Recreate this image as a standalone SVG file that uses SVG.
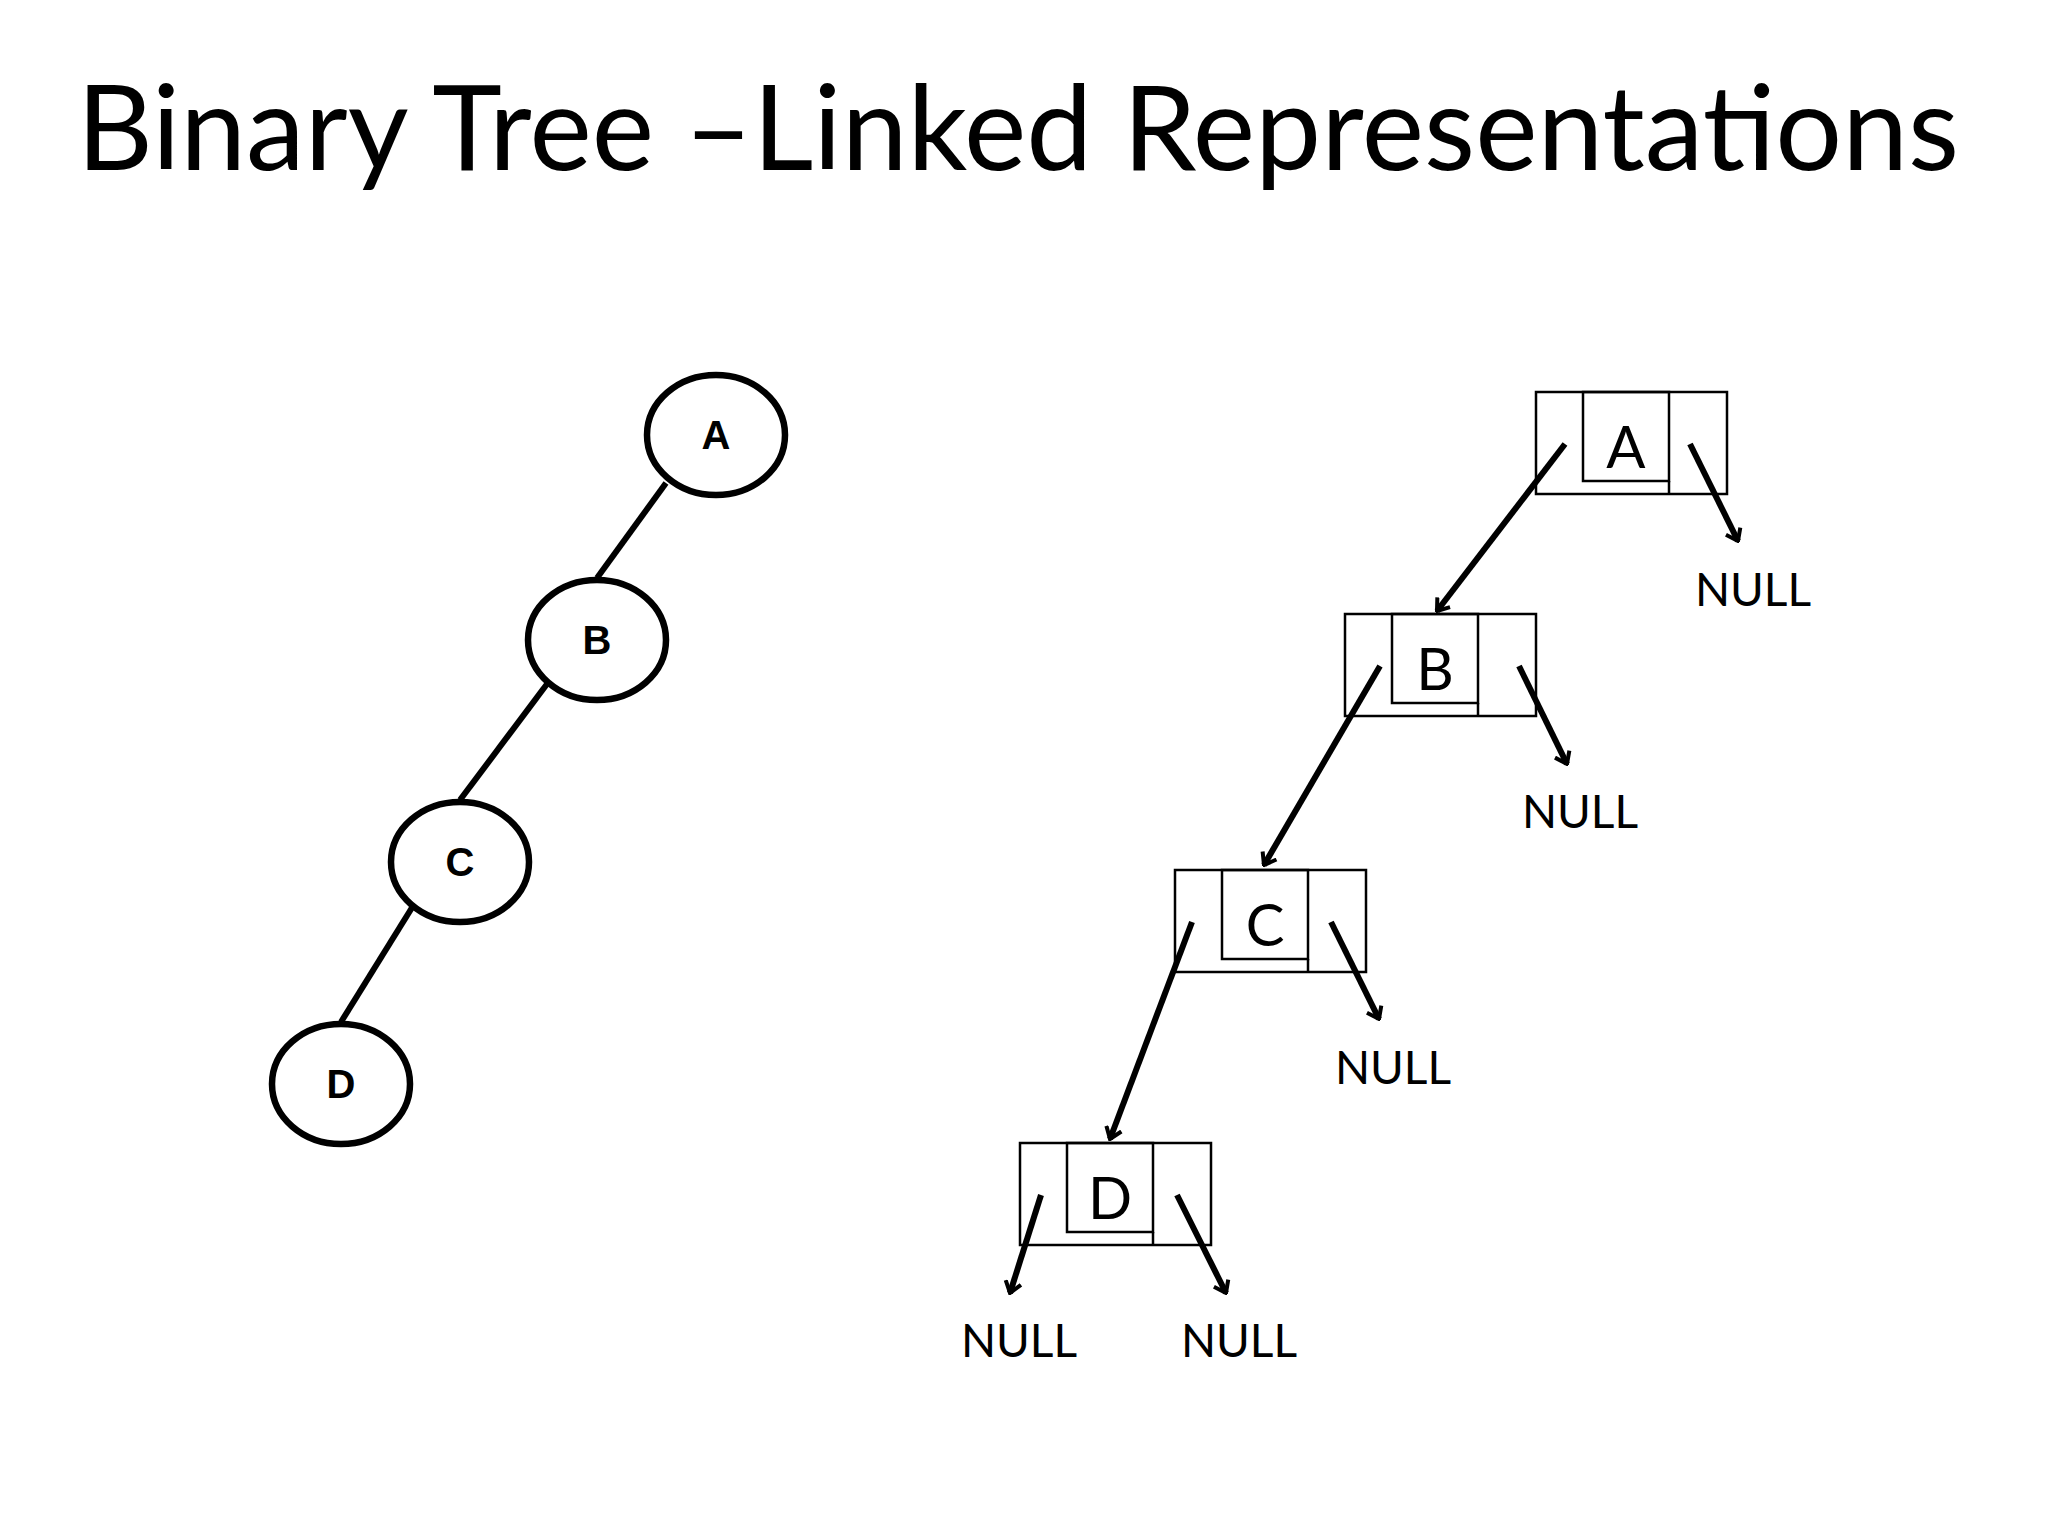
<svg xmlns="http://www.w3.org/2000/svg" width="2048" height="1536" viewBox="0 0 2048 1536">
<defs>
<style>
.t{font-family:Lato,"Liberation Sans",sans-serif;fill:#000}
.bx{fill:none;stroke:#000;stroke-width:2.5}
.el{fill:#fff;stroke:#000;stroke-width:6.5}
.ln{stroke:#000;stroke-width:6;fill:none}
.ar{stroke:#000;stroke-width:6;fill:none;marker-end:url(#ah)}
.nl{font-family:Lato,"Liberation Sans",sans-serif;font-size:46px;text-anchor:middle}
.lb{font-family:"Liberation Sans",Arial,sans-serif;font-weight:bold;font-size:40px;text-anchor:middle}
.bl{font-family:Lato,"Liberation Sans",sans-serif;font-size:58px;text-anchor:middle}
</style>
<marker id="ah" viewBox="-12 -10 14 20" markerWidth="14" markerHeight="20" refX="0" refY="0" orient="auto" markerUnits="userSpaceOnUse">
<path d="M-11,-8 L0,0 L-11,8" fill="none" stroke="#000" stroke-width="4"/>
</marker>
</defs>
<rect width="2048" height="1536" fill="#fff"/>
<text class="t" x="1018" y="170" font-size="118" text-anchor="middle">Binary Tree –Linked Representations</text>
<g id="connectors">
<line class="ln" x1="666" y1="483" x2="597" y2="578"/>
<line class="ln" x1="547" y1="684" x2="460" y2="800"/>
<line class="ln" x1="413" y1="906" x2="341" y2="1022"/>
<line class="ar" x1="1565" y1="444" x2="1437" y2="611"/>
<line class="ar" x1="1690" y1="444" x2="1738" y2="541"/>
<line class="ar" x1="1380" y1="666" x2="1264" y2="865"/>
<line class="ar" x1="1519" y1="666" x2="1567" y2="764"/>
<line class="ar" x1="1192" y1="922" x2="1110" y2="1139"/>
<line class="ar" x1="1331" y1="922" x2="1379" y2="1019"/>
<line class="ar" x1="1041" y1="1195" x2="1010" y2="1293"/>
<line class="ar" x1="1177" y1="1195" x2="1226" y2="1293"/>
</g>
<g id="tA"><ellipse class="el" cx="716" cy="435" rx="69" ry="60"/><text class="lb" x="716" y="449">A</text></g>
<g id="tB"><ellipse class="el" cx="597" cy="640" rx="69" ry="60"/><text class="lb" x="597" y="654">B</text></g>
<g id="tC"><ellipse class="el" cx="460" cy="862" rx="69" ry="60"/><text class="lb" x="460" y="876">C</text></g>
<g id="tD"><ellipse class="el" cx="341" cy="1084" rx="69" ry="60"/><text class="lb" x="341" y="1098">D</text></g>
<g id="nA" transform="translate(1536,392)"><rect class="bx" width="191" height="102"/><rect class="bx" x="47" width="86" height="89"/><line class="bx" x1="133" y1="89" x2="133" y2="102"/><text class="bl" x="90" y="76">A</text></g>
<g id="nB" transform="translate(1345,614)"><rect class="bx" width="191" height="102"/><rect class="bx" x="47" width="86" height="89"/><line class="bx" x1="133" y1="89" x2="133" y2="102"/><text class="bl" x="90" y="76">B</text></g>
<g id="nC" transform="translate(1175,870)"><rect class="bx" width="191" height="102"/><rect class="bx" x="47" width="86" height="89"/><line class="bx" x1="133" y1="89" x2="133" y2="102"/><text class="bl" x="90" y="76">C</text></g>
<g id="nD" transform="translate(1020,1143)"><rect class="bx" width="191" height="102"/><rect class="bx" x="47" width="86" height="89"/><line class="bx" x1="133" y1="89" x2="133" y2="102"/><text class="bl" x="90" y="76">D</text></g>
<g id="nulls">
<text class="nl" x="1753" y="606">NULL</text>
<text class="nl" x="1580" y="828">NULL</text>
<text class="nl" x="1393" y="1084">NULL</text>
<text class="nl" x="1019" y="1357">NULL</text>
<text class="nl" x="1239" y="1357">NULL</text>
</g>
</svg>
